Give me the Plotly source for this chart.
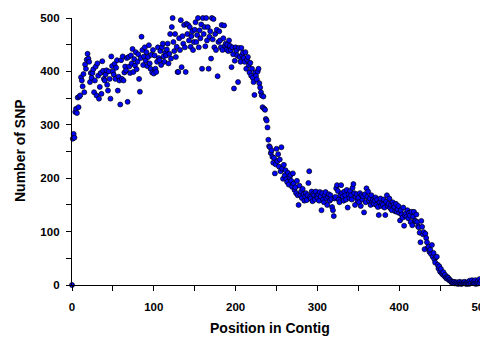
import plotly.graph_objects as go

# SNP counts per position, positions 0..500
snp_0_99 = [
    0, 274, 283, 276, 324, 330, 322, 351, 333, 353,
    355, 389, 383, 372, 395, 361, 413, 405, 422, 433,
    424, 418, 380, 397, 388, 397, 404, 361, 383, 409,
    355, 415, 392, 349, 371, 397, 358, 419, 401, 386,
    383, 394, 402, 375, 364, 400, 386, 349, 428, 410,
    400, 394, 414, 386, 407, 421, 364, 390, 383, 338,
    421, 386, 428, 383, 398, 409, 402, 425, 343, 427,
    409, 397, 430, 415, 442, 399, 423, 411, 436, 404,
    418, 432, 386, 362, 425, 465, 440, 412, 428, 445,
    420, 436, 410, 427, 449, 415, 405, 431, 398, 440,
]
snp_100_199 = [
    396, 430, 405, 399, 418, 445, 425, 421, 438, 412,
    445, 452, 428, 418, 435, 430, 441, 452, 415, 433,
    470, 424, 483, 500, 455, 438, 470, 427, 446, 399,
    399, 462, 440, 496, 408, 466, 452, 487, 445, 399,
    489, 470, 487, 458, 483, 446, 466, 475, 440, 455,
    478, 492, 455, 468, 500, 445, 477, 462, 488, 405,
    500, 470, 483, 447, 500, 458, 483, 405, 465, 475,
    424, 500, 460, 498, 445, 470, 440, 478, 391, 455,
    475, 458, 445, 487, 440, 462, 486, 448, 452, 441,
    450, 438, 458, 448, 440, 408, 445, 432, 368, 420,
]
snp_200_299 = [
    445, 439, 430, 380, 444, 427, 418, 444, 430, 435,
    425, 418, 436, 405, 422, 427, 412, 398, 416, 392,
    405, 388, 380, 356, 398, 392, 385, 400, 405, 378,
    370, 361, 355, 333, 353, 330, 328, 311, 308, 295,
    272, 260, 258, 247, 252, 240, 229, 238, 209, 226,
    255, 232, 245, 222, 235, 213, 258, 218, 199, 225,
    205, 215, 198, 193, 210, 188, 202, 206, 195, 184,
    209, 190, 178, 183, 172, 195, 168, 150, 186, 168,
    175, 163, 180, 170, 158, 166, 172, 159, 168, 191,
    213, 165, 162, 175, 157, 171, 168, 160, 175, 166,
]
snp_300_399 = [
    163, 170, 158, 174, 166, 140, 172, 160, 155, 168,
    174, 162, 150, 165, 170, 158, 168, 161, 146, 140,
    129, 162, 165, 181, 187, 176, 160, 155, 168, 187,
    172, 165, 158, 175, 168, 160, 178, 145, 170, 163,
    176, 168, 160, 182, 189, 172, 150, 165, 170, 158,
    163, 155, 172, 148, 168, 160, 166, 136, 170, 155,
    181, 165, 175, 158, 162, 150, 168, 156, 160, 152,
    158, 164, 150, 160, 146, 131, 155, 162, 148, 153,
    150, 160, 145, 131, 156, 168, 148, 152, 162, 144,
    150, 140, 155, 150, 146, 138, 152, 137, 142, 148,
]
snp_400_500 = [
    135, 121, 140, 132, 126, 145, 111, 130, 134, 128,
    140, 125, 135, 130, 118, 137, 112, 128, 137, 120,
    120, 132, 118, 110, 108, 98, 80, 120, 109, 95,
    99, 67, 96, 88, 80, 70, 72, 62, 66, 58,
    75, 53, 60, 48, 42, 52, 53, 38, 31, 35,
    25, 30, 22, 20, 24, 17, 19, 14, 12, 15,
    13, 9, 10, 7, 5, 6, 4, 6, 3, 5,
    3, 5, 2, 4, 6, 3, 2, 5, 3, 4,
    6, 3, 2, 5, 4, 2, 8, 3, 5, 9,
    4, 6, 3, 9, 2, 5, 7, 3, 11, 4,
    8,
]
snp_counts = snp_0_99 + snp_100_199 + snp_200_299 + snp_300_399 + snp_400_500
positions = list(range(len(snp_counts)))

x_ticks = [0, 100, 200, 300, 400, 500]
y_ticks = [0, 100, 200, 300, 400, 500]
x_title = "Position in Contig"
y_title = "Number of SNP"

FONT = "Liberation Sans, Arial, sans-serif"

fig = go.Figure(go.Scatter(
    x=positions, y=snp_counts, mode="markers",
    marker=dict(color="#0000FF", size=5, line=dict(color="#000000", width=0.7)),
    cliponaxis=False, showlegend=False,
))

axis_common = dict(
    showline=True, linecolor="black", linewidth=1.3, mirror=False,
    showgrid=False, zeroline=False, automargin=False,
    ticks="outside", ticklen=5, tickwidth=1.2, tickcolor="black",
    tickfont=dict(family=FONT, size=11.5, color="black", weight="bold"),
    ticklabeloverflow="allow",
    minor=dict(dtick=50, ticks="outside", ticklen=5, tickwidth=1.2, tickcolor="black", showgrid=False),
)

fig.update_xaxes(
    range=[0, 500], tickvals=x_ticks, ticktext=[str(v) for v in x_ticks],
    ticklabelstandoff=6,
    **axis_common,
)
fig.update_yaxes(
    range=[0, 500], tickvals=y_ticks, ticktext=[str(v) for v in y_ticks],
    ticklabelstandoff=4,
    **axis_common,
)

title_font = dict(family=FONT, size=14, color="black", weight="bold")
# The page body adds an 8px offset, so the figure is 480x329 placed at (8, 8).
fig.update_layout(
    width=480, height=329,
    margin=dict(l=64, r=7, t=10, b=52),
    paper_bgcolor="white", plot_bgcolor="white",
    annotations=[
        dict(text=x_title, xref="paper", yref="paper", x=0.484, y=-0.161,
             xanchor="center", yanchor="middle", showarrow=False, font=title_font),
        dict(text=y_title, xref="paper", yref="paper", x=-0.127, y=0.502,
             xanchor="center", yanchor="middle", showarrow=False, textangle=-90, font=title_font),
    ],
)

fig.write_html("out.html")
